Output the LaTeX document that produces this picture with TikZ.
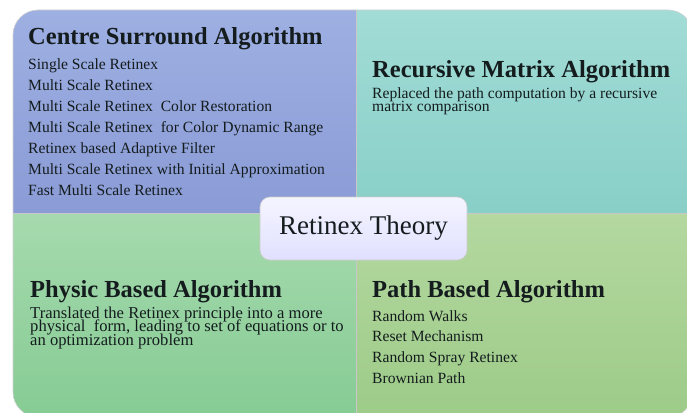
\documentclass[tikz,border=0pt]{standalone}
\usepackage{fontspec}
\setmainfont{Liberation Serif}
\usepackage{tikz}

\definecolor{ink}{HTML}{141C1E}
\definecolor{blueTop}{HTML}{9EB0E2}
\definecolor{blueBot}{HTML}{8A9BD6}
\definecolor{tealTop}{HTML}{A2DCD6}
\definecolor{tealBot}{HTML}{88CFC8}
\definecolor{greenTop}{HTML}{A6DAAE}
\definecolor{greenBot}{HTML}{86CB94}
\definecolor{limeTop}{HTML}{B4D8A0}
\definecolor{limeBot}{HTML}{9DCB88}

\tikzset{
  heading/.style={anchor=base west, inner sep=0pt, text=ink,
    font=\fontsize{24.5}{28}\selectfont\bfseries},
  item/.style={anchor=base west, inner sep=0pt, text=ink,
    font=\fontsize{15.6}{19}\selectfont},
  edge/.style={draw=black!22, line width=0.8pt},
}

\begin{document}
\begin{tikzpicture}[x=1pt,y=-1pt]
                \useasboundingbox (0,0) rectangle (687,412);
                \fill[white] (0,0) rectangle (687,412);

                % the four quarters, cut to one rounded outline
                \begin{scope}
                \clip[rounded corners=25pt] (13,10) rectangle (693,417);
                \shade[top color=blueTop, bottom color=blueBot] (13,10) rectangle (356,213);
                \shade[top color=tealTop, bottom color=tealBot] (356,10) rectangle (693,213);
                \shade[top color=greenTop, bottom color=greenBot] (13,213) rectangle (356,417);
                \shade[top color=limeTop, bottom color=limeBot] (356,213) rectangle (693,417);
                \draw[edge] (13,213) -- (693,213);
                \draw[edge] (356,10) -- (356,417);
                \end{scope}
                \draw[black!18, line width=0.6pt, rounded corners=25pt] (13,10) rectangle (693,417);

                % centre surround
                \node (centre) [heading] at (28,45) {Centre Surround Algorithm};
                \foreach \txt [count=\i] in {Single Scale Retinex, Multi Scale Retinex,
                    Multi Scale Retinex\ \ Color Restoration,
                    Multi Scale Retinex\ \ for Color Dynamic Range,
                    Retinex based Adaptive Filter,
                    Multi Scale Retinex with Initial Approximation,
                    Fast Multi Scale Retinex}
                  \node (centre\i) [item] at (28,{69+21.1*(\i-1)}) {\txt};

                % recursive matrix
                \node (matrix) [heading] at (372,77) {Recursive Matrix Algorithm};
                \foreach \txt [count=\i] in {Replaced the path computation by a recursive,
                    matrix comparison}
                  \node (matrix\i) [item, font=\fontsize{15.6}{19}\selectfont] at (372,{98+13.5*(\i-1)}) {\txt};

                % physic based
                \node (physic) [heading] at (30,297) {Physic Based Algorithm};
                \foreach \txt [count=\i] in {Translated the Retinex principle into a more,
                    {physical\ \ form, leading to set of equations or to},
                    an optimization problem}
                  \node (physic\i) [item, font=\fontsize{16.6}{19}\selectfont] at (30,{318+13.5*(\i-1)}) {\txt};

                % path based
                \node (path) [heading] at (372,297) {Path Based Algorithm};
                \foreach \txt [count=\i] in {Random Walks, Reset Mechanism,
                    Random Spray Retinex, Brownian Path}
                  \node (path\i) [item] at (372,{321+20.7*(\i-1)}) {\txt};

                % title box in the middle
                \node (theory) [draw=black!20, line width=0.6pt, rounded corners=10pt,
                  top color=white!96!blue, bottom color=white!88!blue,
                  minimum width=207pt, minimum height=63pt, text=ink,
                  font=\fontsize{27}{30}\selectfont] at (363.5,228.5) {Retinex Theory};

\end{tikzpicture}
\end{document}
